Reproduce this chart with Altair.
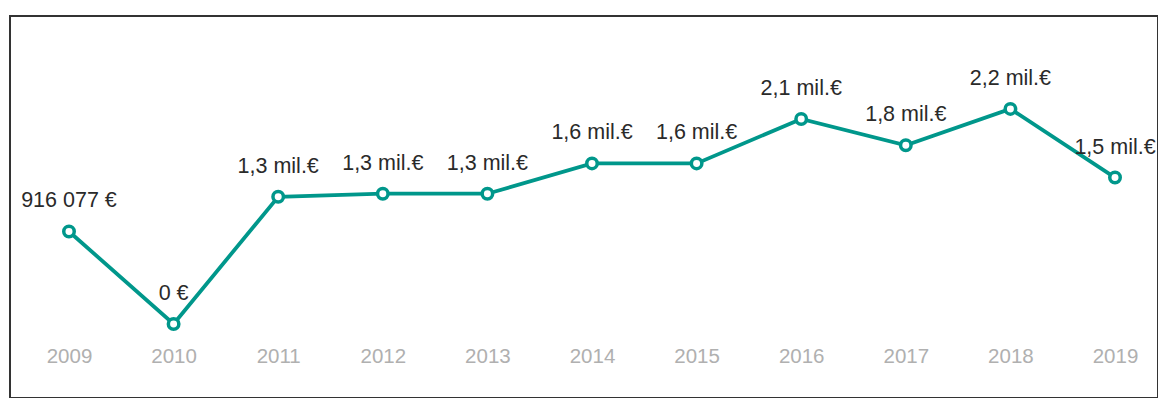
import altair as alt
import pandas as pd

years = [2009, 2010, 2011, 2012, 2013, 2014, 2015, 2016, 2017, 2018, 2019]
values = [916077, 0, 1260000, 1290000, 1290000, 1590000, 1590000, 2030000, 1770000, 2130000, 1450000]
labels = ["916 077 €", "0 €", "1,3 mil.€", "1,3 mil.€", "1,3 mil.€", "1,6 mil.€",
          "1,6 mil.€", "2,1 mil.€", "1,8 mil.€", "2,2 mil.€", "1,5 mil.€"]

df = pd.DataFrame({"year": years, "value": values, "label": labels})

TEAL = "#00978b"

x = alt.X("year:Q",
          scale=alt.Scale(domain=[2008.436, 2019.411], nice=False, zero=False),
          axis=alt.Axis(values=years, format="d", title=None, domain=False, ticks=False,
                        tickSize=0, grid=False, labelFontSize=20.5, labelColor="#b0b0b0",
                        labelFont="Liberation Sans", labelBaseline="middle",
                        labelPadding=0, offset=-42, labelFlush=False))
y = alt.Y("value:Q", scale=alt.Scale(domain=[-733000, 3050000], nice=False, zero=False),
          axis=None)

base = alt.Chart(df).encode(x=x, y=y)

line = base.mark_line(color=TEAL, strokeWidth=3.8)
points = base.mark_point(shape="circle", size=110, filled=True, fill="white",
                         stroke=TEAL, strokeWidth=3.5, opacity=1)
text = base.mark_text(dy=-30, fontSize=21.5, font="Liberation Sans", color="#2a2a2a",
                      baseline="middle", align="center").encode(text="label:N")

chart = (line + points + text).properties(
    width=1148, height=382,
    background="white",
    autosize=alt.AutoSizeParams(type="none"),
    padding={"left": 2, "top": 8, "right": 0, "bottom": 0},
).configure_view(stroke="#333333", strokeWidth=2)

chart.save("out.html", embed_options={"renderer": "svg", "actions": False})
